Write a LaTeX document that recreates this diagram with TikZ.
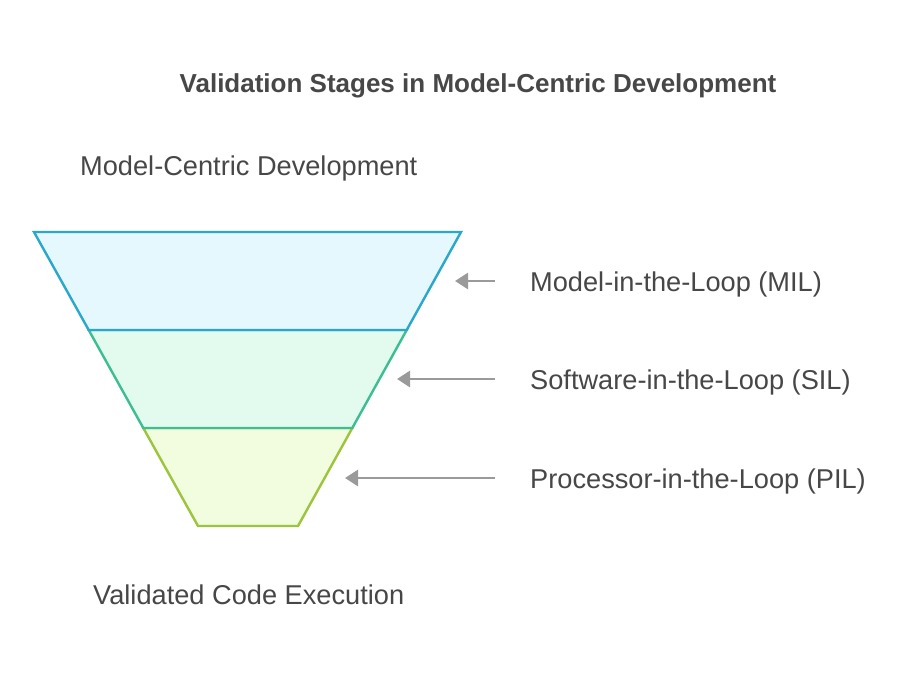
\documentclass[tikz,border=0pt]{standalone}
\usepackage{fontspec}
\setmainfont{Liberation Sans}
\usetikzlibrary{arrows.meta}
\definecolor{txt}{HTML}{474747}
\definecolor{arrc}{HTML}{9A9A9A}
\definecolor{b1s}{HTML}{2AA7CB}
\definecolor{b1f}{HTML}{E4F8FD}
\definecolor{b2s}{HTML}{3DBE92}
\definecolor{b2f}{HTML}{E3FBEE}
\definecolor{b3s}{HTML}{9CC43C}
\definecolor{b3f}{HTML}{F2FCDE}
\tikzset{
  band/.style={line width=2.4pt, line join=miter},
  arr/.style={draw=arrc, line width=2.8pt, -{Triangle[length=13pt,width=16pt]}},
  lbl/.style={anchor=west, inner sep=0pt, text=txt, font=\fontsize{27.2}{30}\selectfont},
  ttl/.style={inner sep=0pt, text=txt, font=\bfseries\fontsize{26}{30}\selectfont}
}
\begin{document}
\begin{tikzpicture}[x=1pt,y=-1pt]
\useasboundingbox[fill=white] (0,0) rectangle (908,678);
% title
\node[ttl] (title) at (478,86) {Validation Stages in Model-Centric Development};
% funnel bands
\draw[band, draw=b3s, fill=b3f] (143.3,428) -- (352.3,428) -- (298,526) -- (198,526) -- cycle;
\draw[band, draw=b2s, fill=b2f] (88.7,330) -- (406.7,330) -- (352.3,428) -- (143.3,428) -- cycle;
\draw[band, draw=b1s, fill=b1f] (34,232) -- (461,232) -- (406.7,330) -- (88.7,330) -- cycle;
% top / bottom labels
\node[lbl] (top) at (80,168) {Model-Centric Development};
\node[lbl] (bot) at (93,595) {Validated Code Execution};
% stage labels
\node[lbl] (mil) at (530,284) {Model-in-the-Loop (MIL)};
\node[lbl] (sil) at (530,382) {Software-in-the-Loop (SIL)};
\node[lbl] (pil) at (530,481) {Processor-in-the-Loop (PIL)};
% arrows
\coordinate (m1) at (495,281); \coordinate (m2) at (455,281);
\coordinate (s1) at (495,379); \coordinate (s2) at (397,379);
\coordinate (p1) at (495,478); \coordinate (p2) at (345,478);
\draw[arr] (m1) -- (m2);
\draw[arr] (s1) -- (s2);
\draw[arr] (p1) -- (p2);
\end{tikzpicture}
\end{document}
